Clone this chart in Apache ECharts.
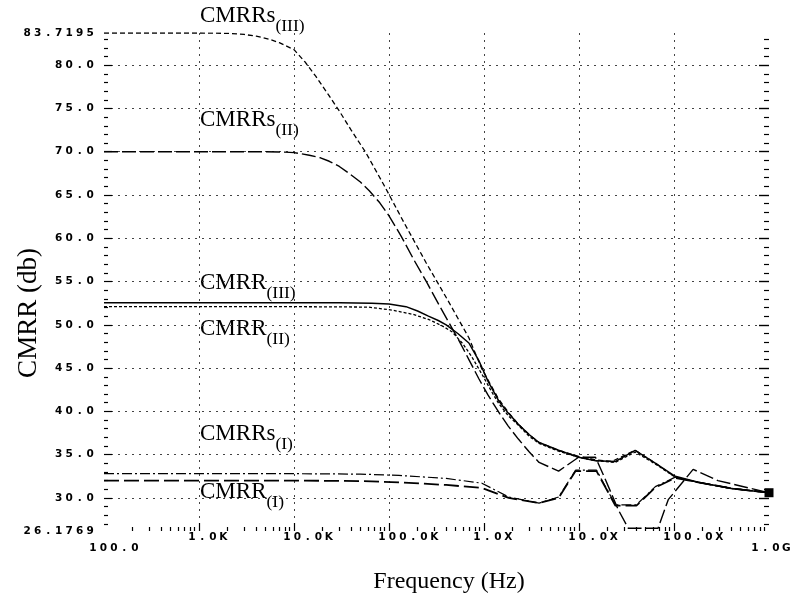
<!DOCTYPE html>
<html><head><meta charset="utf-8">
<script src="https://cdn.jsdelivr.net/npm/echarts@6/dist/echarts.min.js"></script>
<style>html,body{margin:0;padding:0;background:#fff}#c{width:791px;height:598px}</style>
</head><body><div id="c"></div>
<script>
// ---- tick labels ----
const freqTickLabels = ['100.0','1.0K','10.0K','100.0K','1.0X','10.0X','100.0X','1.0G'];
const yMin = 26.1769, yMax = 83.7195;
const yLabelValues = [26.1769,30,35,40,45,50,55,60,65,70,75,80,83.7195];
const yMajorTicks = [30,35,40,45,50,55,60,65,70,75,80];

// ---- series (frequency Hz, CMRR dB) ----
const fCMRRsIII = [100,1e3,2e3,3e3,4e3,5.5e3,7e3,1e4,1.3e4,1.7e4,2.3e4,3e4,4e4,5.7e4,8.9e4,1.44e5,2.45e5,4.28e5,6.93e5,9.5e5,1.2e6,1.43e6,1.8e6,2.3e6,3e6,3.8e6,6.1e6,9.9e6,1.5e7,2.2e7,3.9e7,6.4e7,1.03e8,1.8e8,4e8,1e9];
const vCMRRsIII = [83.72,83.72,83.68,83.55,83.35,83.0,82.6,81.8,80.4,78.7,76.6,74.7,72.5,69.9,66.1,61.8,57.2,52.6,48.5,44.9,42.9,41.4,39.9,38.5,37.3,36.4,35.5,34.8,34.4,34.2,35.5,34.0,32.4,31.8,31.1,30.6];

const fCMRRsII = [100,1e3,5e3,8e3,1e4,1.45e4,1.9e4,2.35e4,3e4,3.8e4,5e4,6.2e4,8e4,1e5,1.35e5,1.83e5,2.5e5,3.36e5,4.3e5,5.44e5,7e5,8.8e5,1.1e6,1.43e6,1.8e6,2.3e6,3e6,3.8e6,6.1e6,9.9e6,1.49e7,1.9e7,2.6e7,3.3e7,6.8e7,8.7e7,1.59e8,2.9e8,1e9];
const vCMRRsII = [70.0,70.0,70.0,69.95,69.9,69.6,69.3,68.9,68.3,67.5,66.5,65.5,64.1,62.6,60.2,57.5,54.9,52.3,50.2,48.2,45.9,43.8,41.9,39.9,38.3,36.8,35.3,34.1,33.1,34.7,34.7,32.1,28.6,26.5,26.5,29.8,33.3,32.0,30.6];

const fCMRRIII = [100,1e4,3e4,6.6e4,1e5,1.51e5,2e5,2.6e5,3.3e5,4e5,5.3e5,6.93e5,8.8e5,1.1e6,1.43e6,1.8e6,2.3e6,3e6,3.8e6,6.1e6,9.9e6,1.5e7,2.4e7,3.9e7,6.4e7,1.03e8,1.8e8,4e8,1e9];
const vCMRRIII = [52.55,52.55,52.55,52.5,52.4,52.1,51.6,51.0,50.5,50.0,49.0,47.9,45.9,43.5,41.2,39.8,38.5,37.3,36.4,35.5,34.7,34.3,34.2,35.5,34.0,32.5,31.8,31.1,30.6];

const fCMRRII = [100,1e4,6e4,1.08e5,1.8e5,2.64e5,3.6e5,4.6e5,6e5,7.45e5,9.5e5,1.2e6,1.43e6,1.8e6,2.3e6,3e6,3.8e6,6.1e6,9.9e6,1.5e7,2.4e7,3.9e7,6.4e7,1.03e8,1.8e8,4e8,1e9];
const vCMRRII = [52.1,52.1,52.05,51.7,51.2,50.6,49.9,49.2,47.8,46.3,44.3,42.3,40.9,39.5,38.4,37.1,36.3,35.4,34.7,34.3,34.1,35.3,33.9,32.4,31.8,31.1,30.6];

const fCMRRsI = [100,1e4,5e4,1.27e5,4e5,9.5e5,1.82e6,3.8e6,6.1e6,9.2e6,1.53e7,2.42e7,4.02e7,6.36e7,1.03e8,1.8e8,4e8,1e9];
const vCMRRsI = [32.8,32.8,32.75,32.6,32.25,31.7,30.1,29.4,30.1,33.2,33.2,29.2,29.2,31.3,32.4,31.8,31.1,30.6];

const fCMRRI = [100,1e4,5e4,1.27e5,4e5,9.5e5,1.82e6,3.8e6,6.1e6,9.2e6,1.53e7,2.42e7,4.02e7,6.36e7,1.03e8,1.8e8,4e8,1e9];
const vCMRRI = [32.0,32.0,31.95,31.8,31.5,31.15,30.0,29.4,30.0,33.1,33.1,29.1,29.1,31.2,32.3,31.8,31.1,30.6];

// ---- helpers ----
const zip = (f, v) => f.map((x, i) => [x, v[i]]);
const tickFont = 'DejaVu Sans';
const serif = 'Liberation Serif';
const CELL = 10.5;
const TICK_FS = 10.5;

const xMinorTicks = [];
for (let n = 2; n < 9; n++) for (let k = 2; k <= 9; k++) xMinorTicks.push(n + Math.log10(k));
const yMinorTicks = [];
for (let v = 27; v <= 83; v++) if (v % 5 !== 0) yMinorTicks.push(v);

const cellStyle = {fontFamily: tickFont, fontSize: TICK_FS, fontWeight: 'bold', color: '#000', width: CELL, align: 'center'};
const cells = (s, tok) => s.split('').map(ch => '{' + tok + '|' + ch + '}').join('');

function xLabel(v) {
  const i = Math.round(v) - 2;
  const t = freqTickLabels[i];
  const n = t.length;
  let shift = 12.4, tok = 'c', pt = 'p';
  if (i === 0) { shift = 16.4; tok = 'cl'; pt = 'pl'; }
  if (i === freqTickLabels.length - 1) { shift = 19.4; tok = 'cl'; pt = 'pl'; }
  const pad = Math.max(0.5, n * CELL - 2 * shift);
  return '{' + pt + pad.toFixed(1).replace('.', '_') + '| }' + cells(t, tok);
}
function yLabel(v) {
  const ext = Math.abs(v - yMin) < 1e-6 || Math.abs(v - yMax) < 1e-6;
  return cells(ext ? v.toFixed(4) : v.toFixed(1), 'c');
}
// padding tokens of specific widths
const xRich = {c: cellStyle, cl: {...cellStyle, padding: [11, 0, 0, 0]}};
freqTickLabels.forEach((t) => {
  const n = t.length;
  [12.4, 16.4, 19.4].forEach(sh => {
    const pad = Math.max(0.5, n * CELL - 2 * sh);
    const key = pad.toFixed(1).replace('.', '_');
    xRich['p' + key] = {...cellStyle, width: pad};
    xRich['pl' + key] = {...cellStyle, width: pad, padding: [11, 0, 0, 0]};
  });
});

const dotted = {color: '#444', width: 1, type: [2, 5]};
const yBase = {type: 'value', min: yMin, max: yMax, axisLine: {show: false}, splitLine: {show: false}, axisLabel: {show: false}};

function line(name, f, v, dash, width) {
  return {
    name, type: 'line', xAxisIndex: 0, yAxisIndex: 0, data: zip(f, v),
    symbol: 'none', smooth: false, silent: true,
    lineStyle: {color: '#000', width: width || 1.3, type: dash}
  };
}

const seriesIII = line('CMRR(III)', fCMRRIII, vCMRRIII, 'solid', 1.5);
const lastIdx = seriesIII.data.length - 1;
seriesIII.data[lastIdx] = {value: seriesIII.data[lastIdx], symbol: 'rect', symbolSize: 9, itemStyle: {color: '#000'}};

function annot(x, y, main, sub) {
  return {
    type: 'text', x, y, silent: true,
    style: {
      text: '{m|' + main + '}{s|' + sub + '}',
      verticalAlign: 'top', align: 'left',
      rich: {
        m: {fontFamily: serif, fontSize: 23, lineHeight: 26, verticalAlign: 'top', fill: '#000'},
        s: {fontFamily: serif, fontSize: 17.5, lineHeight: 17, padding: [13, 0, 0, 0], verticalAlign: 'top', fill: '#000'}
      }
    }
  };
}

const option = {
  backgroundColor: '#fff',
  animation: false,
  grid: {left: 104, right: 22, top: 33, bottom: 67, outerBoundsMode: 'none', containLabel: false},
  xAxis: [
    {type: 'log', logBase: 10, min: 100, max: 1e9, show: false},
    {type: 'value', min: 2, max: 9, position: 'bottom', offset: 0,
      axisLine: {show: false},
      axisTick: {show: true, inside: true, length: 8, lineStyle: {color: '#000', width: 1.2}, customValues: [3,4,5,6,7,8]},
      axisLabel: {show: true, customValues: [2,3,4,5,6,7,8,9], formatter: xLabel, margin: 1, align: 'center',
        fontFamily: tickFont, fontSize: TICK_FS, fontWeight: 'bold', color: '#000', rich: xRich},
      splitLine: {show: true, lineStyle: dotted}},
    {type: 'value', min: 2, max: 9, position: 'bottom', offset: 0,
      axisLine: {show: false}, axisLabel: {show: false}, splitLine: {show: false},
      axisTick: {show: true, inside: true, length: 4, lineStyle: {color: '#000', width: 1.2}, customValues: xMinorTicks}}
  ],
  yAxis: [
    {...yBase, position: 'left',
      axisTick: {show: true, inside: true, length: 8, lineStyle: {color: '#000', width: 1.2}, customValues: yMajorTicks},
      axisLabel: {show: true, customValues: yLabelValues, formatter: yLabel, margin: 8.5,
        fontFamily: tickFont, fontSize: TICK_FS, fontWeight: 'bold', color: '#000', rich: {c: cellStyle},
        showMinLabel: true, showMaxLabel: true},
      splitLine: {show: true, lineStyle: dotted}},
    {...yBase, position: 'left',
      axisTick: {show: true, inside: true, length: 4, lineStyle: {color: '#000', width: 1.2}, customValues: yMinorTicks}},
    {...yBase, position: 'right',
      axisTick: {show: true, inside: true, length: 10, lineStyle: {color: '#000', width: 1.4}, customValues: yMajorTicks}},
    {...yBase, position: 'right',
      axisTick: {show: true, inside: true, length: 5, lineStyle: {color: '#000', width: 1.2}, customValues: yMinorTicks}}
  ],
  series: [
    line('CMRRs(III)', fCMRRsIII, vCMRRsIII, [5, 3], 1.3),
    line('CMRRs(II)', fCMRRsII, vCMRRsII, [14, 4], 1.4),
    seriesIII,
    line('CMRR(II)', fCMRRII, vCMRRII, [3, 2], 1.3),
    line('CMRRs(I)', fCMRRsI, vCMRRsI, [10, 3, 2, 3], 1.2),
    line('CMRR(I)', fCMRRI, vCMRRI, [15, 5], 1.8)
  ],
  graphic: [
    annot(200, 4, 'CMRRs', '(III)'),
    annot(200, 108, 'CMRRs', '(II)'),
    annot(200, 271, 'CMRR', '(III)'),
    annot(200, 317, 'CMRR', '(II)'),
    annot(200, 422, 'CMRRs', '(I)'),
    annot(200, 480, 'CMRR', '(I)'),
    {type: 'text', x: 449, y: 582, silent: true,
      style: {text: 'Frequency (Hz)', font: '24px "Liberation Serif"', fill: '#000', align: 'center', verticalAlign: 'middle'}},
    {type: 'text', x: 29, y: 313, rotation: Math.PI / 2, silent: true,
      style: {text: 'CMRR (db)', font: '27px "Liberation Serif"', fill: '#000', align: 'center', verticalAlign: 'middle'}}
  ]
};
const chart = echarts.init(document.getElementById('c'));
chart.setOption(option);
</script></body></html>
